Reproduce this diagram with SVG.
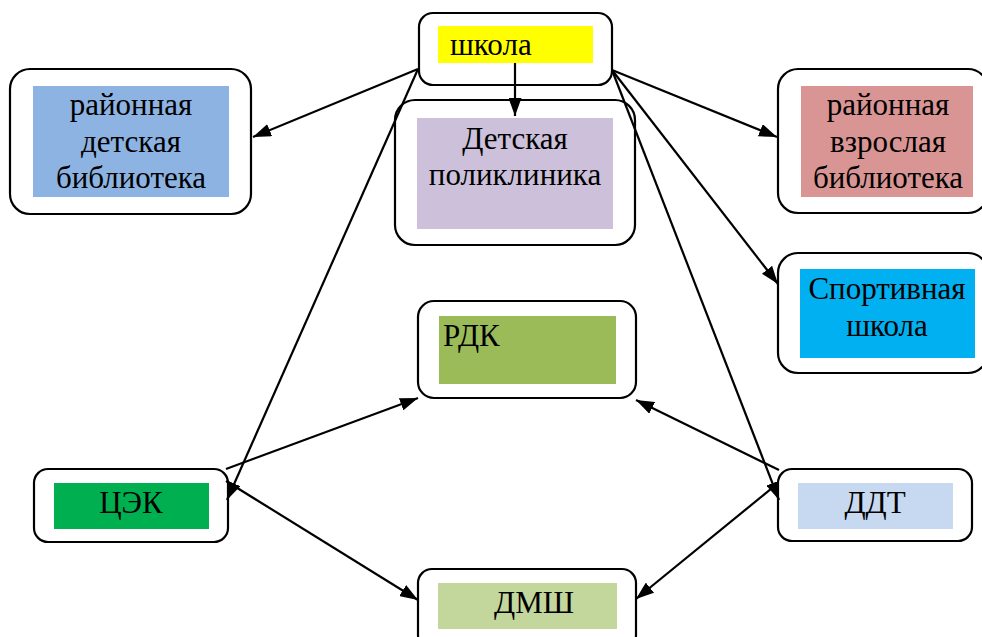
<svg xmlns="http://www.w3.org/2000/svg" width="982" height="637" viewBox="0 0 982 637">
<defs>
<marker id="ah" markerWidth="18" markerHeight="13" refX="18" refY="6.5" orient="auto" markerUnits="userSpaceOnUse">
<path d="M0,0 L18,6.5 L0,13 z" fill="#000"/>
</marker>
<style>
.box{fill:#fff;stroke:#000;stroke-width:2.2}
.c{text-anchor:middle}
.ln{stroke:#000;stroke-width:2.2;fill:none;marker-end:url(#ah)}
text{font-family:"Liberation Serif","Times New Roman","DejaVu Serif",serif;font-size:31px;fill:#000}
</style>
</defs>
<rect width="982" height="637" fill="#fff"/>
<g id="school">
<rect class="box" x="419" y="13" width="193" height="72" rx="14"/>
<rect x="438" y="26" width="155" height="37" fill="#ffff00"/>
<text x="450" y="55">школа</text>
</g>
<g id="clinic">
<rect class="box" x="395" y="100" width="240" height="145" rx="20"/>
<rect x="417" y="118" width="196" height="111" fill="#ccc0da"/>
<text class="c" x="515" y="149">Детская</text>
<text class="c" x="515" y="185">поликлиника</text>
</g>
<g id="child-library">
<rect class="box" x="10" y="69" width="241" height="145" rx="20"/>
<rect x="33" y="86" width="196" height="111" fill="#8db3e2"/>
<text class="c" x="131" y="115">районная</text>
<text class="c" x="131" y="152">детская</text>
<text class="c" x="131" y="188">библиотека</text>
</g>
<g id="adult-library">
<rect class="box" x="778" y="69" width="210" height="144" rx="20"/>
<rect x="801" y="86" width="172" height="111" fill="#d99594"/>
<text class="c" x="888" y="115">районная</text>
<text class="c" x="888" y="152">взрослая</text>
<text class="c" x="888" y="188">библиотека</text>
</g>
<g id="sport">
<rect class="box" x="778" y="253" width="210" height="120" rx="20"/>
<rect x="800" y="269" width="175" height="89" fill="#00b0f0"/>
<text class="c" x="887" y="299">Спортивная</text>
<text class="c" x="887" y="336">школа</text>
</g>
<g id="rdk">
<rect class="box" x="418" y="301" width="218" height="97" rx="16"/>
<rect x="439" y="316" width="177" height="68" fill="#9bbb59"/>
<text x="443" y="346">РДК</text>
</g>
<g id="cek">
<rect class="box" x="34" y="469" width="194" height="73" rx="14"/>
<rect x="54" y="483" width="155" height="46" fill="#00b050"/>
<text class="c" x="131" y="513">ЦЭК</text>
</g>
<g id="ddt">
<rect class="box" x="778" y="469" width="194" height="72" rx="14"/>
<rect x="798" y="483" width="155" height="46" fill="#c6d9f1"/>
<text class="c" x="875" y="513">ДДТ</text>
</g>
<g id="dmsh">
<rect class="box" x="418" y="569" width="218" height="80" rx="14"/>
<rect x="438" y="583" width="179" height="46" fill="#c3d69b"/>
<text class="c" x="534" y="613">ДМШ</text>
</g>
<g id="connectors">
<line class="ln" x1="515" y1="63" x2="515" y2="116"/>
<line class="ln" x1="418" y1="69" x2="253" y2="137"/>
<line class="ln" x1="418" y1="69" x2="227" y2="500"/>
<line class="ln" x1="612" y1="70" x2="777" y2="137"/>
<line class="ln" x1="612" y1="70" x2="778" y2="284"/>
<line class="ln" x1="612" y1="70" x2="779" y2="500"/>
<line class="ln" x1="226" y1="469" x2="418" y2="398"/>
<line class="ln" x1="226" y1="481" x2="418" y2="600"/>
<line class="ln" x1="779" y1="470" x2="636" y2="400"/>
<line class="ln" x1="777" y1="484" x2="636" y2="599"/>
</g>
</svg>
